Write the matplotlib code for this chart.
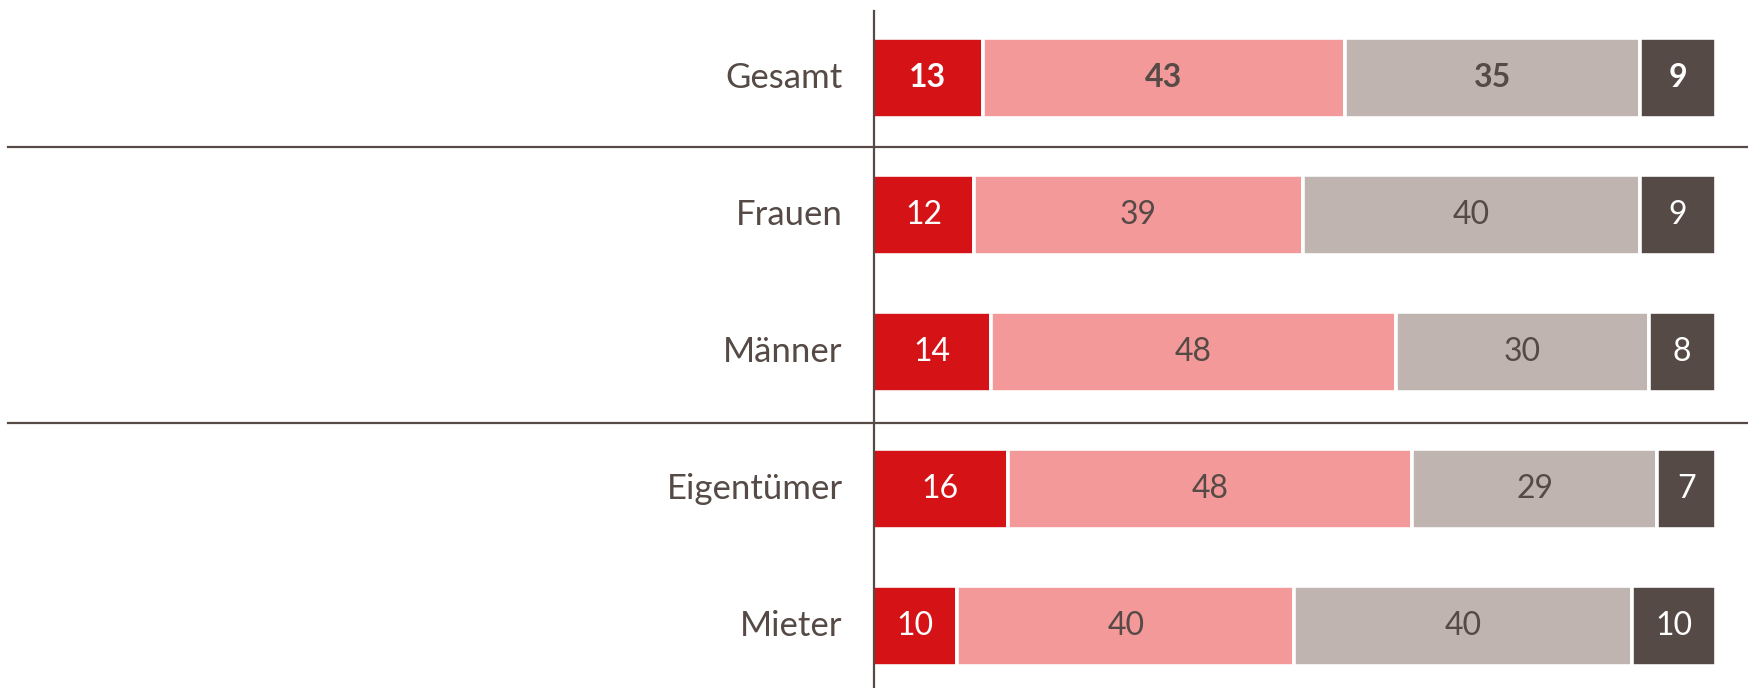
import matplotlib.pyplot as plt
import numpy as np

plt.rcParams['font.family'] = ['Lato', 'DejaVu Sans']

groups = ['Gesamt', 'Frauen', 'Männer', 'Eigentümer', 'Mieter']
seg1 = [13, 12, 14, 16, 10]
seg2 = [43, 39, 48, 48, 40]
seg3 = [35, 40, 30, 29, 40]
seg4 = [9, 9, 8, 7, 10]

colors = ['#D51317', '#F4999A', '#BFB4AF', '#554A45']
text_colors = ['white', '#554A45', '#554A45', 'white']
dark = '#554A45'

fig = plt.figure(figsize=(17.48, 6.88), dpi=100)
ax = fig.add_axes([0, 0, 1, 1])

y = np.arange(len(groups))
left = np.zeros(len(groups))
for vals, col, tcol in zip([seg1, seg2, seg3, seg4], colors, text_colors):
    vals = np.array(vals)
    ax.barh(y, vals, left=left, height=0.585, color=col,
            edgecolor='white', linewidth=2.6)
    for i, v in enumerate(vals):
        ax.text(left[i] + v / 2, y[i], str(v), ha='center', va='center',
                fontsize=23, color=tcol,
                fontweight='bold' if i == 0 else 'normal')
    left += vals

for i, g in enumerate(groups):
    ax.text(-3.6, y[i], g, ha='right', va='center', fontsize=25,
            color=dark)

# Trennlinien und Achse
ax.plot([-102.6, 104], [0.504, 0.504], color=dark, lw=1.6)
ax.plot([-102.6, 104], [2.52, 2.52], color=dark, lw=1.6)
ax.plot([0.1, 0.1], [-0.49, 4.6], color=dark, lw=1.6)

ax.set_xlim(-103.56, 103.8)
ax.set_ylim(4.453, -0.569)
ax.axis('off')

fig.savefig('out.png', dpi=100)
